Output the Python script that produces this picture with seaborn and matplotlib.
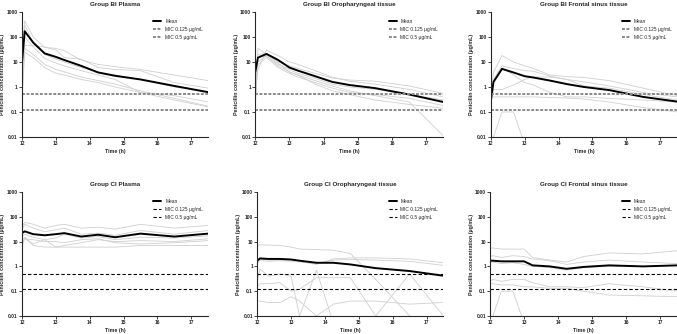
import pandas as pd
import matplotlib.pyplot as plt
import numpy as np
import seaborn as sns

sns.set_style('ticks')
plt.rcParams['font.family'] = ['Liberation Sans', 'DejaVu Sans']

time_h = [12, 12.08, 12.33, 12.67, 13, 13.25, 13.75, 14.25, 14.75, 15.5, 16.5, 17.5]

titles = ['Group BI Plasma', 'Group BI Oropharyngeal tissue', 'Group BI Frontal sinus tissue',
          'Group CI Plasma', 'Group CI Oropharyngeal tissue', 'Group CI Frontal sinus tissue']

mean_bi_plasma = [10, 170, 60, 22, 16, 12, 7, 3.8, 2.8, 2.0, 1.1, 0.62]
mean_bi_oro = [4, 15, 21, 12, 6, 4.5, 2.7, 1.6, 1.2, 0.9, 0.5, 0.25]
mean_bi_sinus = [0.3, 1.6, 5.3, 3.8, 2.7, 2.4, 1.8, 1.3, 1.0, 0.75, 0.4, 0.26]
mean_ci_plasma = [22, 26, 20, 18, 20, 22, 16, 19, 15, 21, 16, 21]
mean_ci_oro = [1.7, 2.1, 2.0, 2.0, 1.9, 1.7, 1.4, 1.4, 1.2, 0.85, 0.65, 0.42]
mean_ci_sinus = [1.7, 1.7, 1.6, 1.6, 1.6, 1.1, 1.0, 0.8, 0.95, 1.1, 1.0, 1.1]

subj_bi_plasma = [
    [8, 450, 100, 38, 35, 28, 12, 8, 6.5, 5, 3, 1.8],
    [5, 45, 45, 40, 30, 15, 13, 6, 5, 4.5, 1.5, 0.9],
    [10, 300, 60, 20, 13, 10, 6, 4, 3, 2, 1.0, 0.6],
    [0.5, 35, 20, 8, 5, 4, 2.5, 1.8, 1.3, 0.7, 0.35, 0.17],
    [0.3, 25, 15, 6, 3.5, 3, 2, 1.5, 1.0, 0.6, 0.3, 0.16],
    [1, 100, 40, 14, 9, 7, 4.5, 3, 2, 0.6, 0.45, 0.25],
]
subj_bi_oro = [
    [0.5, 35, 20, 10, 7, 5.5, 3.5, 2.3, 1.9, 1.7, 1.1, 0.55],
    [1, 5, 30, 18, 10, 8, 4.5, 2.5, 1.7, 1.3, 0.8, 0.4],
    [0.3, 10, 18, 8, 5, 3.5, 2.2, 1.3, 1.0, 0.8, 0.5, 0.3],
    [2, 15, 17, 7, 4, 3, 1.8, 1.1, 0.7, 0.45, 0.25, 0.011],
    [0.2, 8, 15, 6, 3.5, 2.5, 1.5, 0.9, 0.6, 0.5, 0.35, 0.18],
    [0.4, 20, 22, 9, 4, 3, 1.3, 0.7, 0.5, 0.3, 0.2, 0.14],
]
subj_bi_sinus = [
    [0.5, 4, 18, 10, 7, 5.5, 3, 2.6, 2.4, 1.8, 0.9, 0.45],
    [0.3, 2, 7, 5.5, 4.5, 4.3, 2.7, 2, 1.6, 1.1, 0.6, 0.4],
    [0.2, 0.8, 0.8, 1.2, 2, 2.5, 2.5, 2.0, 1.1, 0.9, 0.5, 0.3],
    [0.3, 1.5, 6, 3, 1.5, 1.2, 0.6, 0.4, 0.4, 0.35, 0.3, 0.25],
    [0.3, 0.4, 0.4, 0.4, 0.4, 0.4, 0.38, 0.36, 0.33, 0.25, 0.15, 0.1],
    [0.005, 0.01, 0.1, 0.1, 0.005, 0.005, 0.005, 0.005, 0.005, 0.005, 0.005, 0.005],
]
subj_ci_plasma = [
    [40, 60, 50, 35, 45, 50, 35, 38, 32, 50, 35, 45],
    [30, 50, 35, 25, 30, 35, 20, 22, 18, 28, 20, 28],
    [15, 20, 15, 12, 14, 20, 14, 16, 12, 15, 14, 17],
    [12, 14, 8, 12, 6, 7, 9, 12, 10, 11, 10, 13],
    [6, 15, 7, 6, 6, 6, 6, 6, 6, 7, 7, 7],
    [10, 12, 12, 10, 10, 9, 12, 13, 9, 8, 9, 11],
]
subj_ci_oro = [
    [7, 7.5, 7.2, 7, 6, 5, 4.8, 4.5, 3.3, 0.3, 0.01, 0.005],
    [1.5, 2.0, 1.8, 1.8, 1.8, 1.6, 1.2, 2.0, 2.2, 2.2, 2.0, 1.4],
    [1.3, 1.8, 1.6, 1.7, 1.6, 1.5, 1.3, 1.8, 1.9, 1.8, 1.6, 1.1],
    [0.25, 0.8, 0.4, 0.5, 0.4, 0.01, 0.7, 0.005, 0.005, 0.01, 0.5, 0.01],
    [0.15, 0.2, 0.2, 0.22, 0.1, 0.12, 0.35, 0.35, 0.35, 0.01, 0.005, 0.005],
    [0.04, 0.04, 0.035, 0.035, 0.06, 0.04, 0.01, 0.03, 0.04, 0.04, 0.03, 0.035],
]
subj_ci_sinus = [
    [5.5, 5.5, 5, 5, 5, 2.3, 1.8, 1.5, 2.5, 3.5, 3.2, 4.3],
    [2.5, 2.7, 2.3, 2.7, 2.5, 2, 1.7, 1.2, 1.5, 1.8, 1.5, 1.3],
    [1.4, 1.5, 1.3, 1.4, 1.2, 1.0, 0.9, 0.7, 0.9, 1.0, 1.0, 1.1],
    [0.25, 0.3, 0.25, 0.3, 0.3, 0.22, 0.15, 0.15, 0.14, 0.2, 0.15, 0.1],
    [0.2, 0.2, 0.18, 0.18, 0.15, 0.15, 0.13, 0.13, 0.1, 0.07, 0.065, 0.06],
    [0.005, 0.01, 0.1, 0.1, 0.005, 0.005, 0.005, 0.005, 0.005, 0.005, 0.005, 0.005],
]

means = [mean_bi_plasma, mean_bi_oro, mean_bi_sinus, mean_ci_plasma, mean_ci_oro, mean_ci_sinus]
subjects = [subj_bi_plasma, subj_bi_oro, subj_bi_sinus, subj_ci_plasma, subj_ci_oro, subj_ci_sinus]
mic_levels = [0.125, 0.5]
yticks = [0.01, 0.1, 1, 10, 100, 1000]

# axes boxes in figure fraction (left, bottom, width, height)
boxes = [
    [0.0325, 0.590, 0.275, 0.374],
    [0.377, 0.590, 0.278, 0.374],
    [0.725, 0.590, 0.275, 0.374],
    [0.0325, 0.054, 0.275, 0.371],
    [0.380, 0.054, 0.275, 0.371],
    [0.724, 0.054, 0.276, 0.371],
]

fig = plt.figure(figsize=(6.77, 3.34), dpi=100)
for i in range(6):
    ax = fig.add_axes(boxes[i])
    rows = []
    for s, vals in enumerate(subjects[i]):
        for t, v in zip(time_h, vals):
            rows.append({'time': t, 'conc': v, 'subject': s})
    df = pd.DataFrame(rows)
    sns.lineplot(data=df, x='time', y='conc', units='subject', estimator=None,
                 color='#cfcfcf', linewidth=0.6, ax=ax, legend=False)
    sns.lineplot(x=time_h, y=means[i], color='black', linewidth=1.4, ax=ax, label='Mean')
    top = i < 3
    for m in mic_levels:
        if top:
            ax.axhline(m, color='#8a8a8a', linewidth=1.4, dashes=(1.5, 0.8),
                       label=f'MIC {m:g} \u00b5g/mL')
        else:
            ax.axhline(m, color='black', linewidth=0.8, dashes=(3, 2),
                       label=f'MIC {m:g} \u00b5g/mL')
    ax.set_yscale('log')
    ax.set_ylim(0.01, 1000)
    ax.set_xlim(12, 17.5)
    ax.set_xticks([12, 13, 14, 15, 16, 17])
    ax.set_yticks(yticks)
    ax.set_yticklabels(['0.01', '0.1', '1', '10', '100', '1000'])
    ax.minorticks_off()
    ax.tick_params(labelsize=3.5, length=2, width=0.6, pad=1)
    for lab in ax.get_xticklabels() + ax.get_yticklabels():
        lab.set_fontweight('bold')
    sns.despine(ax=ax)
    ax.spines['left'].set_linewidth(0.8)
    ax.spines['bottom'].set_linewidth(0.8)
    ax.set_title(titles[i], fontsize=4.5, fontweight='bold', pad=4)
    ax.set_xlabel('Time (h)', fontsize=3.8, fontweight='bold', labelpad=2)
    ax.set_ylabel('Penicillin concentration (\u00b5g/mL)', fontsize=3.8, fontweight='bold', labelpad=1)
    ax.legend(loc='upper right', bbox_to_anchor=(0.99, 0.97), frameon=False, fontsize=3.5,
              handlelength=1.6, labelspacing=0.6, borderaxespad=0.3)

fig.savefig('out.png', dpi=100)
